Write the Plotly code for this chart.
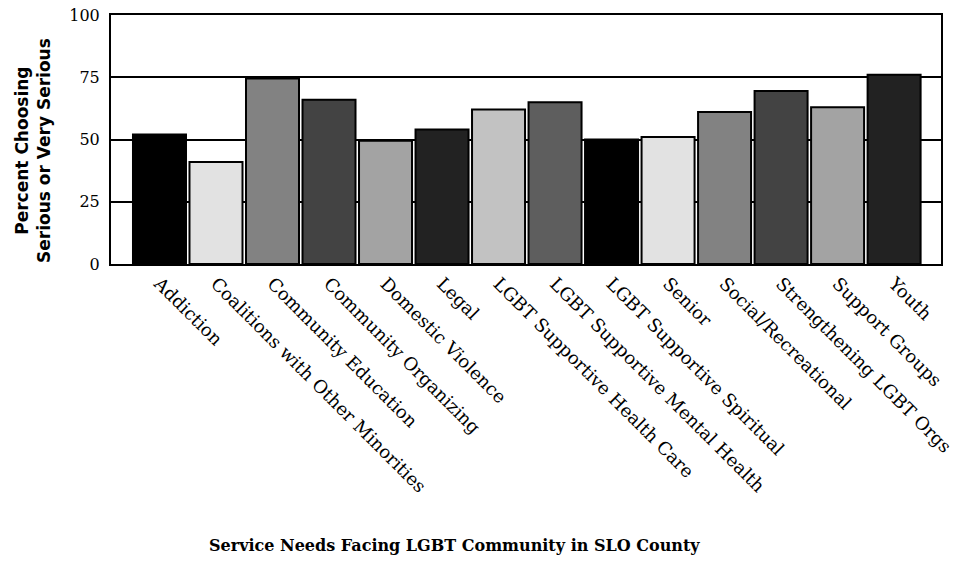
import plotly.graph_objects as go

categories = ["Addiction", "Coalitions with Other Minorities", "Community Education",
              "Community Organizing", "Domestic Violence", "Legal",
              "LGBT Supportive Health Care", "LGBT Supportive Mental Health",
              "LGBT Supportive Spiritual", "Senior", "Social/Recreational",
              "Strengthening LGBT Orgs", "Support Groups", "Youth"]
values = [52, 41, 74.5, 66, 49.5, 54, 62, 65, 50, 51, 61, 69.5, 63, 76]
bar_colors = ["#000000", "#e2e2e2", "#828282", "#434343", "#a3a3a3", "#222222", "#c2c2c2",
              "#5e5e5e", "#000000", "#e2e2e2", "#828282", "#434343", "#a3a3a3", "#222222"]
y_ticks = [0, 25, 50, 75, 100]

fig = go.Figure(go.Bar(
    x=categories, y=values,
    marker=dict(color=bar_colors, line=dict(color="#000000", width=2)),
))

fig.update_layout(
    width=956, height=561,
    margin=dict(l=111, r=15, t=15, b=297, autoexpand=False),
    paper_bgcolor="white", plot_bgcolor="white",
    bargap=0.062,
    showlegend=False,
    font=dict(family="DejaVu Serif", color="black"),
)
fig.update_xaxes(
    range=[-0.858, 13.83],
    tickangle=45, tickfont=dict(family="DejaVu Serif", size=18, color="black"),
    showline=True, linecolor="black", linewidth=2, mirror=True,
    ticks="", showgrid=False, automargin=False, ticklabeloverflow="allow",
)
fig.update_yaxes(
    range=[0, 100], tickvals=y_ticks,
    tickfont=dict(family="DejaVu Serif", size=16, color="black"),
    showline=True, linecolor="black", linewidth=2, mirror=True,
    showgrid=True, gridcolor="black", gridwidth=1.5, zeroline=False,
    ticks="", ticklabelstandoff=6, automargin=False, ticklabeloverflow="allow",
)
fig.add_annotation(
    xref="paper", yref="paper", x=(33 - 111) / 830, y=(264 - 151) / 249,
    xanchor="center", yanchor="middle",
    text="Percent Choosing<br>Serious or Very Serious", textangle=-90, showarrow=False,
    font=dict(family="DejaVu Sans", size=17, color="black", weight="bold"),
)
fig.add_annotation(
    xref="paper", yref="paper", x=(454 - 111) / 830, y=-(545 - 264) / 249,
    xanchor="center", yanchor="middle",
    text="<b>Service Needs Facing LGBT Community in SLO County</b>", showarrow=False,
    font=dict(family="DejaVu Serif", size=16, color="black"),
)

fig.write_html("out.html", config={"displayModeBar": False},
               post_script="document.body.style.margin='0';")
